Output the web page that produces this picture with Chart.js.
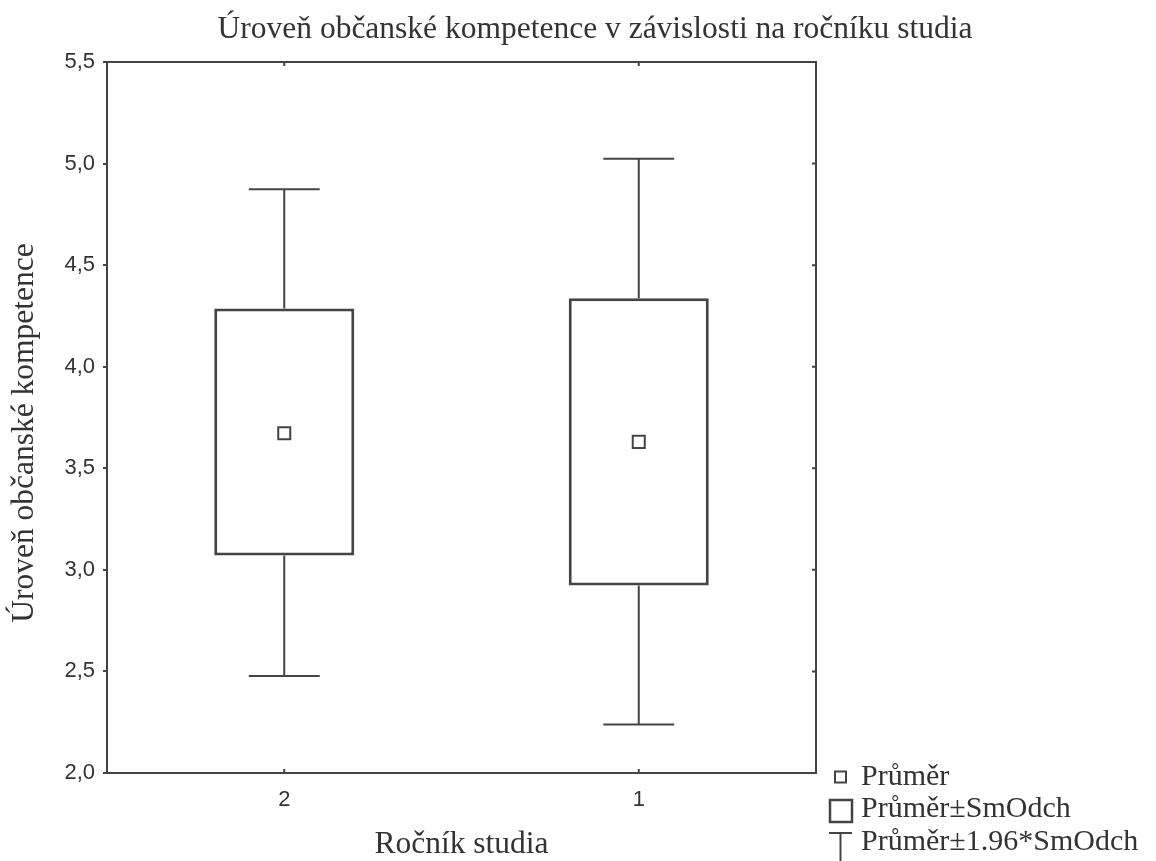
<!DOCTYPE html>
<html lang="cs">
<head>
<meta charset="UTF-8">
<title>Úroveň občanské kompetence</title>
<script src="https://cdn.jsdelivr.net/npm/chart.js@4.4.1/dist/chart.umd.min.js"></script>
<style>
    html, body { margin: 0; padding: 0; background: #fff; }
</style>
</head>
<body>
<canvas id="chartArea" width="1156" height="861"></canvas>
<script>
    // values
    const labels = ['2', '1'];
    const means = [3.673, 3.630];
    const sdLow = [3.071, 2.923];
    const sdHigh = [4.286, 4.337];
    const ciLow = [2.478, 2.239];
    const ciHigh = [4.874, 5.024];

    const titleText = 'Úroveň občanské kompetence v závislosti na ročníku studia';
    const yTitle = 'Úroveň občanské kompetence';
    const xTitle = 'Ročník studia';
    const legendItems = ['Průměr', 'Průměr±SmOdch', 'Průměr±1.96*SmOdch'];

    const ink = '#444';
    const serif = '"Liberation Serif", "Times New Roman", serif';
    const sans = '"Liberation Sans", Arial, sans-serif';

    // whiskers (mean ± 1.96*SD) drawn through the scales
    const whiskers = {
        id: 'whiskers',
        beforeDatasetsDraw(chart) {
            const xs = chart.scales.x, ys = chart.scales.y, ctx = chart.ctx;
            const half = (xs.getPixelForValue(1) - xs.getPixelForValue(0)) * 0.1;
            ctx.save();
            ctx.strokeStyle = ink;
            ctx.lineWidth = 2;
            labels.forEach((l, i) => {
                const x = xs.getPixelForValue(i);
                ctx.beginPath();
                ctx.moveTo(x, ys.getPixelForValue(ciHigh[i]));
                ctx.lineTo(x, ys.getPixelForValue(sdHigh[i]));
                ctx.moveTo(x, ys.getPixelForValue(sdLow[i]));
                ctx.lineTo(x, ys.getPixelForValue(ciLow[i]));
                ctx.moveTo(x - half, ys.getPixelForValue(ciHigh[i]));
                ctx.lineTo(x + half, ys.getPixelForValue(ciHigh[i]));
                ctx.moveTo(x - half, ys.getPixelForValue(ciLow[i]));
                ctx.lineTo(x + half, ys.getPixelForValue(ciLow[i]));
                ctx.stroke();
            });
            ctx.restore();
        }
    };

    // frame, inner ticks, titles and legend
    const frame = {
        id: 'frame',
        afterDraw(chart) {
            const a = chart.chartArea, xs = chart.scales.x, ys = chart.scales.y, ctx = chart.ctx;
            ctx.save();
            ctx.strokeStyle = ink;
            ctx.lineWidth = 2;
            ctx.beginPath();
            ctx.moveTo(a.left, a.top);
            ctx.lineTo(a.right, a.top);
            ctx.lineTo(a.right, a.bottom);
            ctx.stroke();
            ctx.beginPath();
            labels.forEach((l, i) => {
                const x = xs.getPixelForValue(i);
                ctx.moveTo(x, a.top);
                ctx.lineTo(x, a.top + 4);
                ctx.moveTo(x, a.bottom);
                ctx.lineTo(x, a.bottom - 4);
            });
            ys.ticks.forEach(t => {
                const y = ys.getPixelForValue(t.value);
                ctx.moveTo(a.right, y);
                ctx.lineTo(a.right - 4, y);
            });
            ctx.stroke();

            ctx.fillStyle = '#333';
            ctx.font = '31.5px ' + serif;
            ctx.textAlign = 'center';
            ctx.textBaseline = 'middle';
            ctx.fillText(titleText, 595, 30);
            ctx.fillText(xTitle, (a.left + a.right) / 2, 845);

            ctx.save();
            ctx.translate(25, 433);
            ctx.rotate(-Math.PI / 2);
            ctx.fillText(yTitle, 0, 0);
            ctx.restore();

            // legend
            ctx.font = '30px ' + serif;
            ctx.textAlign = 'left';
            const lx = 861, rows = [777, 809, 842];
            legendItems.forEach((t, i) => ctx.fillText(t, lx, rows[i]));
            ctx.lineWidth = 2;
            ctx.strokeRect(835, rows[0] - 5.5, 11, 11);
            ctx.lineWidth = 2.5;
            ctx.strokeRect(830, 800, 22, 22);
            ctx.lineWidth = 2;
            ctx.beginPath();
            ctx.moveTo(829, 833);
            ctx.lineTo(852, 833);
            ctx.moveTo(840.5, 833);
            ctx.lineTo(840.5, 861);
            ctx.stroke();
            ctx.restore();
        }
    };

    const data = {
        labels: labels,
        datasets: [
            {
                type: 'line',
                label: legendItems[0],
                data: means,
                showLine: false,
                pointStyle: 'rect',
                pointRadius: 8.5,
                pointBorderWidth: 2,
                pointBackgroundColor: '#fff',
                pointBorderColor: ink,
                order: 0
            },
            {
                type: 'bar',
                label: legendItems[1],
                data: labels.map((l, i) => [sdLow[i], sdHigh[i]]),
                backgroundColor: '#fff',
                borderColor: ink,
                borderWidth: 3,
                borderSkipped: false,
                categoryPercentage: 1,
                barPercentage: 0.395,
                order: 1
            }
        ]
    };

    const config = {
        data,
        options: {
            responsive: false,
            animation: false,
            layout: { padding: { top: 62, right: 340, left: 0, bottom: 0 } },
            plugins: {
                legend: { display: false },
                title: { display: false },
                tooltip: { enabled: false }
            },
            scales: {
                x: {
                    offset: true,
                    grid: { display: false, offset: false },
                    border: { display: true, color: ink, width: 2 },
                    ticks: { color: '#333', font: { family: sans, size: 22 }, padding: 6 },
                    afterFit: s => { s.height = 88; }
                },
                y: {
                    min: 2,
                    max: 5.5,
                    ticks: {
                        stepSize: 0.5,
                        color: '#333',
                        font: { family: sans, size: 22 },
                        padding: 8,
                        callback: v => v.toFixed(1).replace('.', ',')
                    },
                    grid: { drawOnChartArea: false, drawTicks: true, tickLength: 4, color: ink, lineWidth: 2 },
                    border: { display: true, color: ink, width: 2 },
                    afterFit: s => { s.width = 107; }
                }
            }
        },
        plugins: [whiskers, frame]
    };

    var myChart = new Chart(document.getElementById('chartArea'), config);
</script>
</body>
</html>
